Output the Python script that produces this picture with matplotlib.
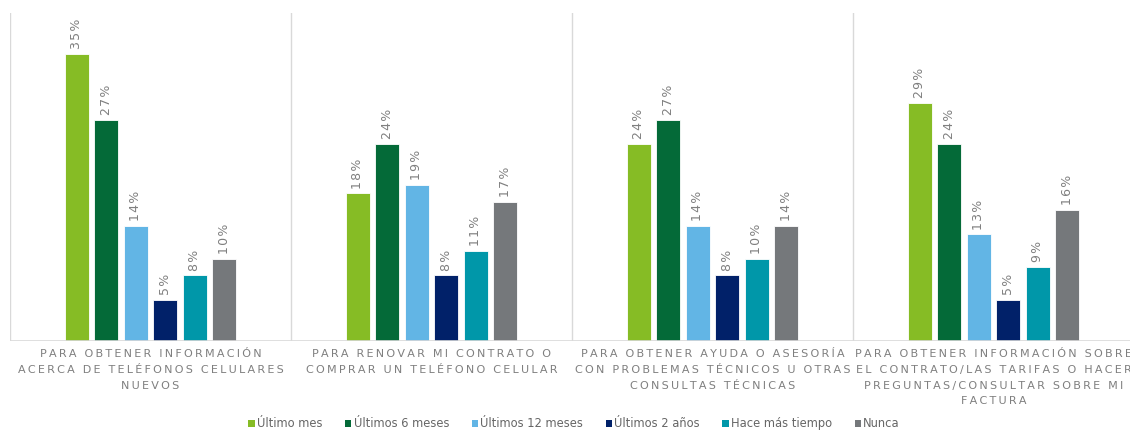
import numpy as np
import matplotlib.pyplot as plt
from matplotlib.patches import Patch

# Datos
categorias = [
    "PARA OBTENER INFORMACIÓN\nACERCA DE TELÉFONOS CELULARES\nNUEVOS",
    "PARA RENOVAR MI CONTRATO O\nCOMPRAR UN TELÉFONO CELULAR",
    "PARA OBTENER AYUDA O ASESORÍA\nCON PROBLEMAS TÉCNICOS U OTRAS\nCONSULTAS TÉCNICAS",
    "PARA OBTENER INFORMACIÓN SOBRE\nEL CONTRATO/LAS TARIFAS O HACER\nPREGUNTAS/CONSULTAR SOBRE MI\nFACTURA",
]
series = ["Último mes", "Últimos 6 meses", "Últimos 12 meses",
          "Últimos 2 años", "Hace más tiempo", "Nunca"]
ultimo_mes = [35, 18, 24, 29]
ultimos_6 = [27, 24, 27, 24]
ultimos_12 = [14, 19, 14, 13]
ultimos_2a = [5, 8, 8, 5]
hace_mas = [8, 11, 10, 9]
nunca = [10, 17, 14, 16]
valores = [ultimo_mes, ultimos_6, ultimos_12, ultimos_2a, hace_mas, nunca]
colores = ["#86BC25", "#046A38", "#62B5E5", "#012169", "#0097A9", "#75787B"]

gris = "#7F7F7F"


def espaciar(txt, sep="\u200a"):
    # simula el espaciado entre letras
    return "\n".join(sep.join(linea) for linea in txt.split("\n"))


fig = plt.figure(figsize=(11.3, 4.32), dpi=100)
ax = fig.add_axes([10 / 1130, 91 / 432, 1124 / 1130, 328 / 432])

n = len(categorias)
x = np.arange(n) + 0.5
paso = 0.105
ancho = 0.087
for i, (vals, col) in enumerate(zip(valores, colores)):
    pos = x + (i - 2.5) * paso
    ax.bar(pos, vals, width=ancho, color=col, edgecolor="white", linewidth=0.6, zorder=2)
    for p, v in zip(pos, vals):
        ax.annotate(espaciar(f"{v}%"), (p, v), xytext=(0, 3.5), textcoords="offset points",
                    rotation=90, ha="center", va="bottom", color=gris, fontsize=9)

ax.set_xlim(0, n)
ax.set_ylim(0, 40)
for b in range(n + 1):
    ax.axvline(b, color="#D9D9D9", linewidth=1, zorder=1)
ax.axhline(0, color="#D9D9D9", linewidth=1.2, zorder=3)

for s in ax.spines.values():
    s.set_visible(False)
ax.set_xticks([])
ax.set_yticks([])

for xc, cat in zip(x, categorias):
    ax.text(xc, -0.025, espaciar(cat, "\u2009"), transform=ax.get_xaxis_transform(),
            ha="center", va="top", color=gris, fontsize=8, linespacing=1.72)

handles = [Patch(facecolor=c, label=s) for s, c in zip(series, colores)]
fig.legend(handles=handles, loc="lower center", bbox_to_anchor=(0.508, -0.02), ncol=6,
           frameon=False, handlelength=0.55, handleheight=0.55, handletextpad=0.2,
           columnspacing=1.95, fontsize=8.3, labelcolor="#666666")

fig.savefig("out.png", dpi=100)
